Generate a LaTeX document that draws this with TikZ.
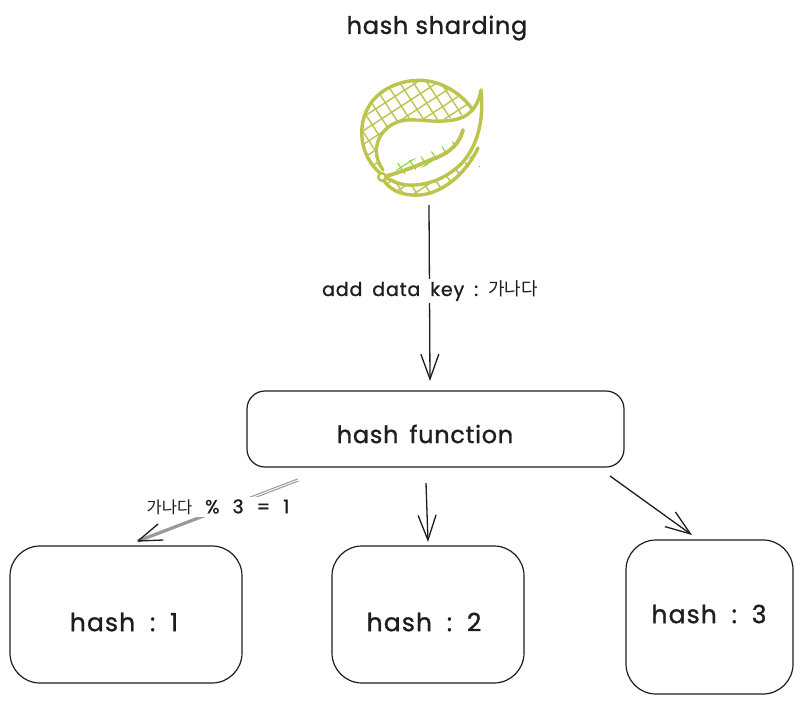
\documentclass[tikz,border=0pt]{standalone}
\usepackage{fontspec}
\setmainfont[FakeBold=1.1]{Poppins}
\newfontfamily\cjk{Noto Sans CJK KR}
\usetikzlibrary{arrows.meta,calc}
\definecolor{ink}{HTML}{1E1E1E}
\definecolor{leafc}{HTML}{BCC44E}
\newcommand\gp{\hspace{7pt}}
\newcommand\gq{\hspace{4pt}}
\tikzset{
  box/.style={draw=ink,line width=1.2pt,rounded corners=#1,fill=white,inner sep=0pt},
  title/.style={font=\fontsize{24}{26}\selectfont\addfontfeature{LetterSpace=3},text=ink},
  boxtext/.style={font=\fontsize{25}{26}\selectfont\addfontfeature{LetterSpace=4.5},text=ink},
  small/.style={font=\fontsize{19}{22}\selectfont\addfontfeature{LetterSpace=4.5},text=ink,fill=white,inner sep=2pt},
  link/.style={draw=ink,line width=1.3pt,-{Straight Barb[length=25pt,width=18pt,line width=1.3pt]}},
  leafline/.style={draw=leafc,line width=3.4pt,line cap=round,line join=round},
  hatch/.style={draw=leafc,line width=1.4pt},
}
\begin{document}
\begin{tikzpicture}[x=1pt,y=-1pt]
\useasboundingbox (0,0) rectangle (802,704);
\fill[white] (0,0) rectangle (802,704);
% logo hatching
\begin{scope}
\clip (382,177) .. controls (352,150) and (358,100) .. (395,85) .. controls (425,72) and (455,85) .. (472,108)
      .. controls (462,120) and (440,120) .. (407,120) .. controls (382,122) and (370,148) .. (383,172) -- (400,184)
      .. controls (430,188) and (462,172) .. (477,148) .. controls (474,170) and (445,195) .. (413,196) .. controls (398,196) and (388,186) .. (382,177) -- cycle;
\begin{scope}[rotate around={33:(420,135)}]
\foreach \i in {-9,...,9}{
  \draw[hatch] (420+\i*11.5,60) -- (420+\i*11.5,210);
  \draw[hatch] (340,135+\i*11.5) -- (500,135+\i*11.5);
}
\end{scope}
\end{scope}
\begin{scope}
\clip (387,166) -- (420,157) -- (458,139) -- (450,152) -- (430,164) -- (405,174) -- cycle;
\begin{scope}[rotate around={33:(420,155)}]
\foreach \i in {-6,...,6}{
  \draw[draw=green!40!leafc,line width=1pt] (420+\i*11.5,110) -- (420+\i*11.5,200);
  \draw[draw=green!40!leafc,line width=1pt] (360,155+\i*11.5) -- (480,155+\i*11.5);
}
\end{scope}
\end{scope}
% logo outline
\path[leafline] (381,174) .. controls (352,150) and (355,100) .. (395,85) .. controls (425,73) and (455,85) .. (473,110);
\path[leafline] (481,90) .. controls (478,108) and (468,118) .. (453,120) .. controls (435,123) and (420,119) .. (407,120) .. controls (382,122) and (367,148) .. (383,170);
\path[leafline] (481,90) .. controls (484,120) and (478,145) .. (462,163) .. controls (445,180) and (425,186) .. (407,185) .. controls (398,184) and (392,181) .. (387,178);
\path[leafline,line width=3.8pt] (463,130) .. controls (458,148) and (445,155) .. (430,160) .. controls (415,167) and (400,172) .. (387,176);
\path[leafline] (384,181) .. controls (392,192) and (405,196) .. (420,195) .. controls (445,193) and (468,170) .. (478,148);
\path[leafline,fill=white,line width=2.4pt] (382,177) circle (3.8);
\fill[orange] (478.5,165.5) rectangle (480,167);
% nodes
\node[title] (ttl) at (437,28) {hash sharding};
\coordinate (src) at (429,205);
\node[box=18pt,minimum width=377pt,minimum height=76pt] (fn) at (435.5,429) {};
\node[title] (fnt) at (425,434) {hash\gq\ function};
\node[box=30pt,minimum width=232pt,minimum height=137pt] (h1) at (126,614.5) {};
\node[boxtext] (h1t) at (124,622) {hash\gp\ :\gp\ 1};
\node[box=30pt,minimum width=192pt,minimum height=137pt] (h2) at (428,614.5) {};
\node[boxtext] (h2t) at (424,622) {hash\gp\ :\gp\ 2};
\node[box=30pt,minimum width=167pt,minimum height=154pt] (h3) at (709.5,617) {};
\node[boxtext] (h3t) at (709,614) {hash\gp\ :\gp\ 3};
% connectors
\coordinate (t0) at (430,381);
\draw[link] (src) -- (t0);
\node[small] (lab0) at (430,291) {add\gq\ data\gq\ key\gq\ :\gq\ {\cjk\addfontfeature{LetterSpace=0}\fontsize{18}{20}\selectfont 가나다}};
\coordinate (f2) at (426,483);
\coordinate (t2) at (428,542);
\draw[link] (f2) -- (t2);
\coordinate (f3) at (610,476);
\coordinate (t3) at (692,535);
\draw[link] (f3) -- (t3);
\coordinate (f1) at (298,480);
\coordinate (t1) at (138,541);
\draw[draw=ink!45,line width=3.2pt] (f1) -- (t1);
\draw[draw=white,line width=.9pt] (f1) -- ($(f1)!0.3!(t1)$);
\draw[ink,line width=1.3pt,line cap=round] (t1) -- (158,524) (t1) -- (163,540);
\node[small] (lab1) at (218,507) {{\cjk\addfontfeature{LetterSpace=0}\fontsize{16.5}{20}\selectfont 가나다}\gp\ \%\gp\ 3\gp\ =\gp\ 1};
\end{tikzpicture}
\end{document}
